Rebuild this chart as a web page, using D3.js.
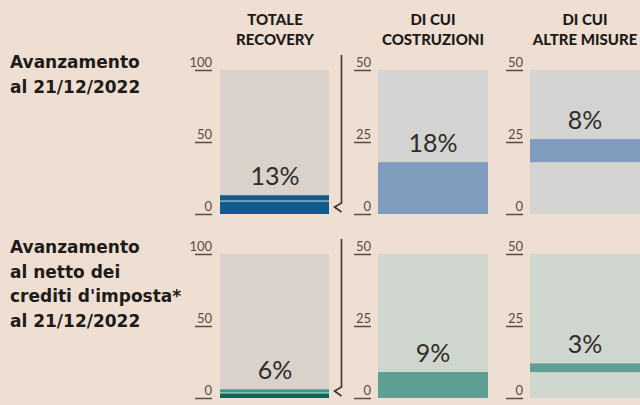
<!DOCTYPE html>
<html>
<head>
<meta charset="utf-8">
<script src="https://cdn.jsdelivr.net/npm/d3@7"></script>
<style>
  html, body { margin: 0; padding: 0; background: #eedfd2; }
  svg { display: block; }
</style>
</head>
<body>
<div id="chart"></div>
<script>
// data
const headers = [["TOTALE", "RECOVERY"], ["DI CUI", "COSTRUZIONI"], ["DI CUI", "ALTRE MISURE"]];
const rowLabels = [
  ["Avanzamento", "al 21/12/2022"],
  ["Avanzamento", "al netto dei", "crediti d'imposta*", "al 21/12/2022"]
];
const totale = [13, 6];
const totaleSplit = [9, 3.5];   // where the inner line / colour change sits
const costruzioni = [18, 9];
const altreMisure = [8, 3];
const axisMax = [100, 50, 50];
const tickValues = [[0, 50, 100], [0, 25, 50], [0, 25, 50]];

// layout
const width = 640, height = 405;
const rowTop = [70, 254], rowBottom = [214, 398];
const colX = [220, 378, 530];
const colW = [109, 110, 112];
const axisRight = [212, 371, 523];

const rowColors = [
  { totBg: "#d9d1ca", subBg: "#d3d3d1", totDark: "#0f5b8e", totLight: "#0f5b8e", sub: "#7f9cbf", sep: "#cfdde6" },
  { totBg: "#d9d1ca", subBg: "#cfd6ce", totDark: "#0c6657", totLight: "#3a9888", sub: "#5f9e92", sep: "#cfe0da" }
];

const svg = d3.select("#chart").append("svg")
  .attr("width", width).attr("height", height);

// column headers
headers.forEach((lines, i) => {
  const t = svg.append("text")
    .attr("x", colX[i] + 55)
    .attr("text-anchor", "middle")
    .attr("font-family", "Lato")
    .attr("font-weight", 900)
    .attr("font-size", 15)
    .attr("fill", "#1e1b19");
  lines.forEach((l, j) => t.append("tspan").attr("x", colX[i] + 55).attr("y", 25 + j * 20).text(l));
});

// row labels
rowLabels.forEach((lines, r) => {
  const t = svg.append("text")
    .attr("font-family", "DejaVu Sans")
    .attr("font-weight", "bold")
    .attr("font-size", 17)
    .attr("fill", "#1e1b19");
  const y0 = r === 0 ? 68 : 253;
  lines.forEach((l, j) => t.append("tspan").attr("x", 10).attr("y", y0 + j * 24.5).text(l));
});

rowTop.forEach((top, r) => {
  const c = rowColors[r];
  const scales = axisMax.map(m => d3.scaleLinear().domain([0, m]).range([rowBottom[r], top]));

  // backgrounds
  colX.forEach((x, i) => {
    svg.append("rect")
      .attr("x", x).attr("y", top)
      .attr("width", colW[i]).attr("height", rowBottom[r] - top)
      .attr("fill", i === 0 ? c.totBg : c.subBg);
  });

  // axes: underlined tick labels
  scales.forEach((s, i) => {
    const ax = svg.append("g")
      .attr("transform", `translate(${axisRight[i]},0)`)
      .call(d3.axisLeft(s).tickValues(tickValues[i]).tickSize(0).tickPadding(0));
    ax.select(".domain").remove();
    ax.selectAll(".tick text")
      .attr("x", 0).attr("dy", -4)
      .attr("text-anchor", "end")
      .attr("font-family", "Lato")
      .attr("font-size", 13)
      .attr("fill", "#5b4d44");
    ax.selectAll(".tick line")
      .attr("x1", -17).attr("x2", 0)
      .attr("stroke", "#5b4d44").attr("stroke-width", 1.5);
  });

  // totale bar (two parts)
  const st = scales[0];
  svg.append("rect")
    .attr("x", colX[0]).attr("width", colW[0])
    .attr("y", st(totale[r])).attr("height", st(totaleSplit[r]) - st(totale[r]))
    .attr("fill", c.totLight);
  svg.append("rect")
    .attr("x", colX[0]).attr("width", colW[0])
    .attr("y", st(totaleSplit[r])).attr("height", st(0) - st(totaleSplit[r]))
    .attr("fill", c.totDark);
  svg.append("line")
    .attr("x1", colX[0]).attr("x2", colX[0] + colW[0])
    .attr("y1", st(totaleSplit[r])).attr("y2", st(totaleSplit[r]))
    .attr("stroke", c.sep).attr("stroke-width", 1);

  // costruzioni bar
  const sc = scales[1];
  svg.append("rect")
    .attr("x", colX[1]).attr("width", colW[1])
    .attr("y", sc(costruzioni[r])).attr("height", sc(0) - sc(costruzioni[r]))
    .attr("fill", c.sub);

  // altre misure bar, floating on top of costruzioni
  const sa = scales[2];
  const a0 = costruzioni[r], a1 = costruzioni[r] + altreMisure[r];
  svg.append("rect")
    .attr("x", colX[2]).attr("width", colW[2])
    .attr("y", sa(a1)).attr("height", sa(a0) - sa(a1))
    .attr("fill", c.sub);

  // value labels
  const labels = [
    [totale[r], st(totale[r])],
    [costruzioni[r], sc(costruzioni[r])],
    [altreMisure[r], sa(a1)]
  ];
  labels.forEach(([v, y], i) => {
    svg.append("text")
      .attr("x", colX[i] + 55)
      .attr("y", y - 10.5)
      .attr("text-anchor", "middle")
      .attr("font-family", "Lato")
      .attr("font-weight", 400)
      .attr("font-size", 25)
      .attr("fill", "#2f2c2a")
      .text(v + "%");
  });

  // bracket linking totale to the detail panels
  const bx = 341.5, yb = rowBottom[r];
  svg.append("path")
    .attr("d", `M${bx},${top - 15} L${bx},${yb - 11} L${bx - 7},${yb - 7} L${bx},${yb - 2}`)
    .attr("fill", "none")
    .attr("stroke", "#3b3430")
    .attr("stroke-width", 1.6);
});
</script>
</body>
</html>
